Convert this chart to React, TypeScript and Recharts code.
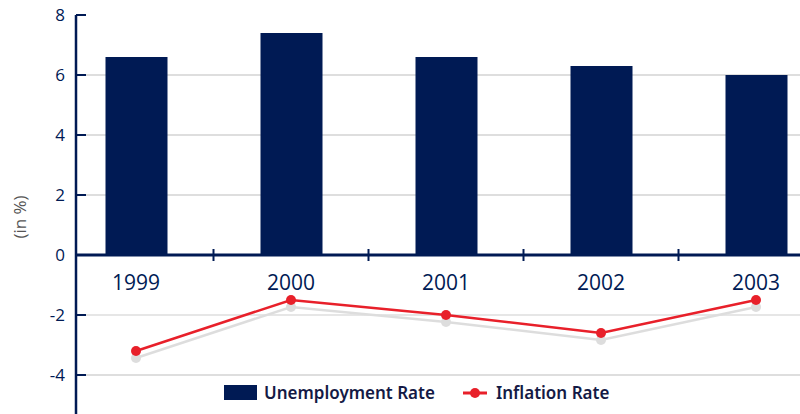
import React from 'react';
import {
  ComposedChart,
  Bar,
  Line,
  XAxis,
  YAxis,
  CartesianGrid,
  ReferenceLine,
  Legend,
} from 'recharts';

const years = ['1999', '2000', '2001', '2002', '2003'];
const unemploymentRate = [6.6, 7.4, 6.6, 6.3, 6.0];
const inflationRate = [-3.2, -1.5, -2.0, -2.6, -1.5];
const yTicks = [-4, -2, 0, 2, 4, 6, 8];
const gridValues = [-4, 2, 4, 6];

const NAVY = '#001a54';
const RED = '#e8202a';

const Y_MIN = -6;
const Y_MAX = 8;
const CHART_W = 800;
const CHART_H = 440;
const MARGIN = { top: 15, right: 0, bottom: 4, left: 0 };
const X_AXIS_H = 1;
const PLOT_H = CHART_H - MARGIN.top - MARGIN.bottom - X_AXIS_H;
// pixel row of the zero line, from the y domain
const ZERO_Y = MARGIN.top + (PLOT_H * Y_MAX) / (Y_MAX - Y_MIN);
const BAND = 155;

const chartData = years.map((year, i) => ({
  year,
  unemployment: unemploymentRate[i],
  inflation: inflationRate[i],
}));

const font = '"Open Sans", "Noto Sans", sans-serif';

const YearTick = (props: any) => {
  const { x, payload, index } = props;
  return (
    <g>
      <text
        x={x}
        y={ZERO_Y + 35}
        textAnchor="middle"
        fill={NAVY}
        fontSize={21}
        fontFamily={font}
      >
        {payload.value}
      </text>
      {index < years.length - 1 && (
        <line x1={x + BAND / 2} x2={x + BAND / 2} y1={ZERO_Y - 6} y2={ZERO_Y + 6} stroke={NAVY} strokeWidth={2} />
      )}
    </g>
  );
};

const ValueTick = (props: any) => {
  const { x, y, payload } = props;
  return (
    <g>
      <line x1={x} x2={x + 10} y1={y} y2={y} stroke={NAVY} strokeWidth={2} />
      <text
        x={x - 11}
        y={y + 6}
        textAnchor="end"
        fill={NAVY}
        fontSize={17}
        fontFamily={font}
      >
        {payload.value}
      </text>
    </g>
  );
};

const LegendContent = () => (
  <div
    style={{
      display: 'flex',
      alignItems: 'center',
      fontFamily: '"Noto Sans", sans-serif',
      fontWeight: 600,
      fontSize: 17,
      color: '#141a45',
      background: '#fff',
    }}
  >
    <span style={{ display: 'inline-block', width: 33, height: 15, background: NAVY, marginRight: 7 }} />
    <span style={{ marginRight: 28 }}>Unemployment Rate</span>
    <svg width={24} height={12} style={{ marginRight: 9 }}>
      <line x1={0} x2={24} y1={6} y2={6} stroke={RED} strokeWidth={3} />
      <circle cx={12} cy={6} r={5} fill={RED} />
    </svg>
    <span>Inflation Rate</span>
  </div>
);

const App: React.FC = () => {
  return (
    <div
      style={{
        position: 'absolute',
        left: 0,
        top: 0,
        width: 800,
        height: 414,
        overflow: 'hidden',
        background: '#fff',
      }}
    >
      <style>{`.shadowed .recharts-line-curve, .shadowed .recharts-line-dot { filter: drop-shadow(0px 7px 0px #dddddd); }`}</style>
      <div className="shadowed">
        <ComposedChart width={CHART_W} height={CHART_H} data={chartData} margin={MARGIN}>
          <CartesianGrid
            horizontal
            vertical={false}
            horizontalValues={gridValues}
            stroke="#bdbdbd"
            strokeWidth={1}
          />
          <ReferenceLine y={-2} stroke="#e6e6e6" strokeWidth={2} />
          <XAxis
            dataKey="year"
            height={X_AXIS_H}
            axisLine={false}
            tickLine={false}
            tick={<YearTick />}
            interval={0}
            padding={{ left: -17.5, right: -33.5 }}
          />
          <YAxis
            width={76}
            domain={[Y_MIN, Y_MAX]}
            ticks={yTicks}
            allowDataOverflow
            axisLine={{ stroke: NAVY, strokeWidth: 2.5 }}
            tickLine={false}
            tickSize={0}
            tickMargin={0}
            tick={<ValueTick />}
            label={{
              value: '(in %)',
              angle: -90,
              position: 'insideLeft',
              offset: 20,
              dy: -8,
              style: { textAnchor: 'middle', fill: '#555', fontSize: 17, fontFamily: font },
            }}
          />
          <Bar dataKey="unemployment" name="Unemployment Rate" fill={NAVY} barSize={62} isAnimationActive={false} />
          <ReferenceLine y={0} stroke={NAVY} strokeWidth={3} />
          <Line
            dataKey="inflation"
            name="Inflation Rate"
            stroke={RED}
            strokeWidth={2.5}
            dot={{ r: 5, fill: RED, stroke: RED, strokeWidth: 0 }}
            activeDot={false}
            isAnimationActive={false}
          />
          <Legend
            layout="horizontal"
            verticalAlign="middle"
            align="center"
            content={<LegendContent />}
            wrapperStyle={{ top: 381, left: 224, width: 'auto' }}
          />
        </ComposedChart>
      </div>
    </div>
  );
};

export default App;
